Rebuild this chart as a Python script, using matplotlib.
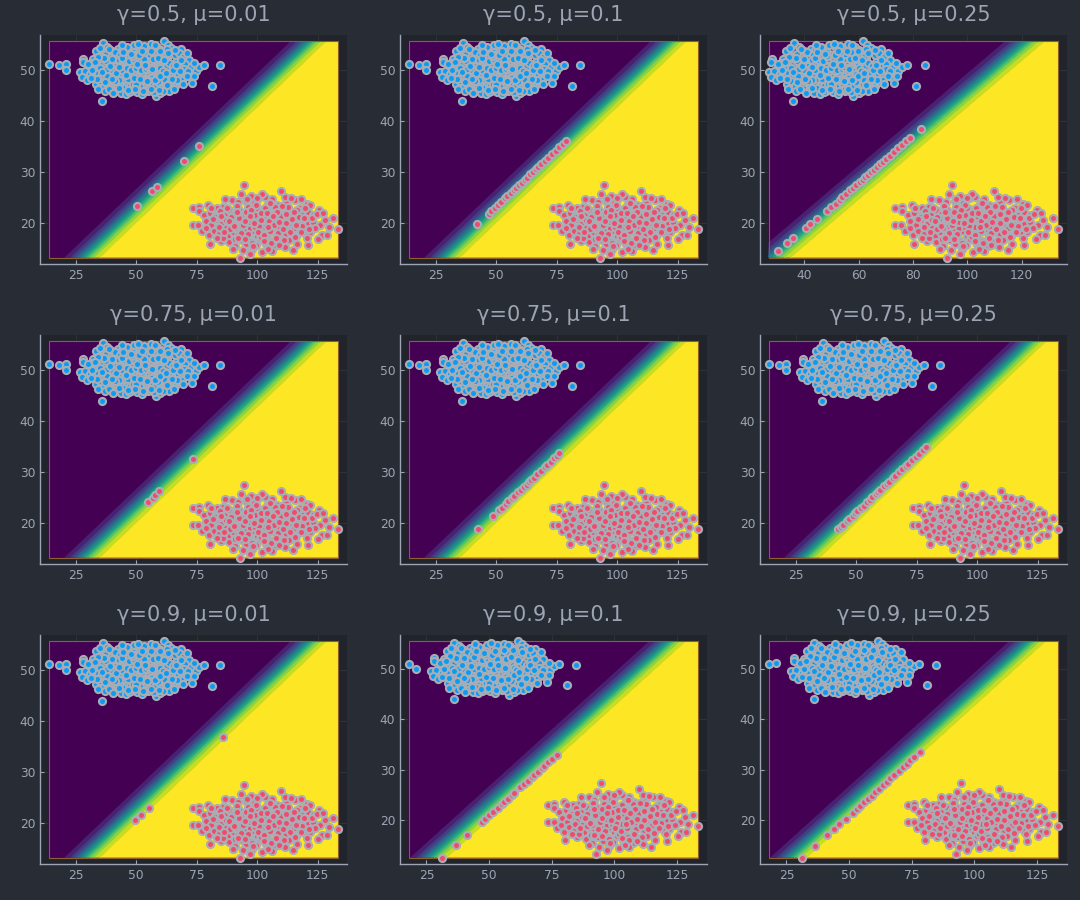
import numpy as np
import matplotlib.pyplot as plt
from matplotlib.patches import Rectangle

plt.rcParams['font.family'] = 'DejaVu Sans'

# ----------- COLORS ------------
FIG_BG = "#282c34"
AX_BG = "#21252b"
FG = "#9da5b4"
BLUE = "#0a9cf5"
RED = "#f04b6c"
EDGE = "#a8adb5"

# ----------- DATA ------------
gammas = [0.5, 0.75, 0.9]
mus = [0.01, 0.1, 0.25]

# decision boundary: passes through (27.7, 13.2), slope 0.4537
boundary_x0, boundary_y0, boundary_slope = 27.7, 13.2, 0.4537
boundary_sharpness = 0.33
n_layers = 12

blue_x = [36.1, 38.0, 42.5, 46.0, 49.1, 51.5, 53.0, 56.0, 58.5, 60.2, 61.5, 63.0, 64.5, 68.3, 44.0, 40.0,
          33.3, 35.0, 37.5, 39.5, 41.0, 43.2, 45.0, 47.0, 48.5, 50.0, 52.0, 54.0, 55.5, 57.2, 59.0, 61.0,
          62.8, 64.0, 66.0, 67.5, 69.5, 71.7, 32.0, 28.0,
          27.9, 30.5, 31.5, 33.0, 34.5, 36.0, 37.5, 38.8, 40.2, 41.5, 42.8, 44.2, 45.5, 46.8, 48.0, 49.3,
          50.6, 51.9, 53.2, 54.5, 55.8, 57.1, 58.4, 59.7, 61.0, 62.3, 63.6, 65.0, 66.5, 68.0, 70.0, 72.5,
          74.5, 76.0, 77.9,
          26.9, 29.0, 31.0, 32.5, 34.0, 35.5, 37.0, 38.3, 39.7, 41.0, 42.3, 43.6, 44.9, 46.2, 47.5, 48.8,
          50.1, 51.4, 52.7, 54.0, 55.3, 56.6, 57.9, 59.2, 60.5, 61.8, 63.1, 64.4, 65.8, 67.2, 68.8, 70.5,
          72.0, 74.0, 27.6, 29.6,
          33.5, 35.0, 36.5, 38.0, 39.5, 40.8, 42.0, 43.4, 44.8, 46.1, 47.4, 48.7, 50.0, 51.3, 52.6, 53.9,
          55.2, 56.5, 57.8, 59.1, 60.4, 61.7, 63.0, 64.5, 66.0, 67.5, 73.1, 69.0,
          34.0, 37.0, 41.6, 43.5, 45.7, 48.0, 50.5, 52.5, 55.0, 58.0, 60.0, 63.5, 36.0,
          42.0, 44.0, 46.0, 48.0, 50.0, 52.0, 54.0, 56.0, 45.0, 47.0, 49.0, 51.0, 53.0, 55.0, 50.0, 45.0,
          40.0, 58.0, 60.0, 62.0, 43.0, 38.0,
          39.2, 41.7, 43.9, 46.6, 48.4, 49.8, 51.2, 53.6, 54.8, 56.9, 58.1, 59.6, 60.9, 62.4, 63.8, 65.3,
          66.7, 68.4, 69.9, 71.4, 36.8, 35.2, 33.8, 31.9, 30.2, 38.6, 40.5, 47.1, 53.8, 57.3, 61.2, 65.5,
          44.3, 50.8, 57.7, 62.6, 66.2, 34.9, 70.8, 73.8,
          37.8, 39.9, 41.3, 42.7, 44.6, 45.9, 47.8, 48.9, 50.4, 51.7, 52.3, 53.4, 54.6, 55.9, 56.4, 57.6,
          58.8, 59.9, 61.4, 62.1, 63.3, 64.7, 66.3, 67.9, 69.3, 70.9, 35.8, 34.3, 32.8, 31.2, 38.9, 46.7,
          49.6, 52.9, 56.1, 59.4, 62.8, 43.0, 40.1, 37.2]
blue_y = [55.3, 54.6, 54.2, 54.5, 54.9, 54.3, 54.8, 55.1, 54.6, 54.0, 55.6, 55.0, 54.4, 54.1, 54.0, 53.8,
          53.7, 52.8, 53.2, 52.6, 53.5, 52.9, 53.3, 52.7, 53.6, 53.0, 52.5, 53.4, 52.8, 53.5, 52.6, 53.2,
          52.4, 53.6, 52.9, 53.3, 52.5, 52.0, 52.1, 52.2,
          51.6, 50.6, 51.4, 50.8, 51.6, 51.0, 51.8, 50.5, 51.3, 50.7, 51.9, 51.1, 50.4, 51.6, 50.9, 51.7,
          50.6, 51.4, 50.8, 51.8, 51.0, 50.5, 51.5, 50.9, 51.7, 50.6, 51.3, 50.8, 51.6, 50.7, 51.2, 50.5,
          49.9, 50.6, 51.0,
          49.6, 49.8, 49.2, 48.7, 49.5, 48.9, 49.7, 48.5, 49.3, 48.8, 49.9, 49.0, 48.4, 49.6, 48.9, 49.5,
          48.6, 49.8, 49.1, 48.5, 49.4, 48.8, 49.9, 49.2, 48.6, 49.6, 48.9, 49.4, 48.5, 49.3, 48.7, 49.5,
          48.6, 48.9, 48.6, 48.1,
          47.2, 47.8, 46.9, 47.5, 46.6, 47.7, 46.9, 47.4, 46.5, 47.6, 46.8, 47.3, 46.6, 47.8, 46.9, 47.5,
          46.4, 47.2, 46.7, 47.6, 46.5, 47.3, 46.8, 47.5, 46.9, 47.6, 47.5, 48.0,
          46.2, 45.8, 45.8, 45.5, 45.2, 45.9, 45.6, 45.3, 45.9, 44.9, 45.5, 45.8, 44.0,
          50.2, 50.0, 50.3, 50.1, 50.4, 50.0, 50.2, 49.9, 52.0, 51.8, 52.2, 51.9, 52.1, 48.0, 48.0, 48.2,
          50.1, 52.0, 50.3, 48.0, 48.1, 50.2,
          50.8, 49.4, 52.4, 48.2, 52.8, 47.2, 52.9, 48.0, 50.6, 52.1, 48.3, 53.8, 49.8, 52.7, 47.6, 50.1,
          48.1, 52.0, 50.2, 49.8, 52.3, 50.3, 48.2, 50.0, 51.2, 46.3, 45.4, 45.6, 46.0, 45.7, 45.9, 46.2,
          55.0, 55.2, 54.9, 54.2, 54.0, 54.3, 53.4, 51.3,
          48.9, 52.2, 47.9, 50.6, 53.6, 49.1, 53.2, 48.4, 51.1, 48.2, 53.7, 50.9, 47.9, 53.8, 50.2, 48.1,
          52.4, 48.9, 51.9, 49.4, 53.4, 48.3, 50.9, 49.9, 47.2, 48.8, 49.7, 52.6, 51.6, 48.5, 54.2, 46.1,
          46.3, 45.9, 46.3, 46.1, 47.1, 46.5, 48.3, 47.6]

red_x = [94.5, 109.8, 89.7, 97.3, 100.5, 103.0, 106.0, 115.4, 120.5, 92.0, 95.5, 98.5, 104.5, 108.0, 112.0,
         117.5, 122.0, 86.0, 83.5, 79.7, 73.5, 76.0,
         76.0, 78.0, 80.5, 82.5, 84.5, 86.5, 88.5, 90.5, 92.5, 94.5, 96.5, 98.5, 100.5, 102.5, 104.5, 106.5,
         108.5, 110.5, 112.5, 114.5, 116.5, 118.5, 121.0, 123.0, 125.7, 131.5,
         73.5, 75.7, 79.0, 81.0, 83.0, 85.0, 87.0, 89.0, 91.0, 93.0, 95.0, 97.0, 99.0, 101.0, 103.0, 105.0,
         107.0, 109.0, 111.0, 113.0, 115.0, 117.0, 119.0, 121.0, 123.0, 126.0, 128.0,
         77.0, 80.0, 82.0, 84.0, 86.0, 88.0, 90.0, 92.0, 94.0, 96.0, 98.0, 100.0, 102.0, 104.0, 106.0, 108.0,
         110.0, 112.0, 114.0, 116.0, 118.0, 120.0, 122.0, 124.0, 133.5, 126.6, 128.7,
         80.4, 85.0, 88.5, 91.0, 93.5, 95.5, 97.5, 99.5, 101.0, 103.5, 105.5, 107.5, 109.5, 111.5, 113.0,
         116.4, 120.9, 102.0, 98.0, 94.0, 106.0, 92.7,
         90.0, 92.0, 94.0, 96.0, 98.0, 100.0, 102.0, 104.0, 106.0, 108.0, 110.0, 95.0, 97.0, 99.0, 101.0,
         103.0, 105.0, 107.0, 93.0, 91.0, 89.0, 111.0, 113.0, 115.0, 87.0, 100.0, 96.0, 104.0, 108.0, 112.0,
         82.7, 84.1, 85.8, 87.4, 88.9, 90.7, 91.6, 93.8, 95.2, 96.8, 97.9, 99.3, 100.8, 101.7, 103.2, 104.9,
         105.8, 107.3, 108.7, 109.8, 111.2, 112.8, 114.3, 115.7, 117.2, 118.6, 119.8, 121.5, 122.7, 124.5,
         125.2, 127.3, 129.5, 78.8, 80.9, 86.8, 93.1, 101.9, 111.3, 118.2, 97.2, 104.3, 89.8, 114.8, 99.1,
         101.6, 94.3, 106.8, 92.4, 108.2,
         88.2, 90.3, 91.8, 93.4, 94.9, 96.3, 97.6, 98.8, 100.3, 101.4, 102.8, 103.9, 105.1, 106.4, 107.9,
         109.1, 110.6, 111.9, 113.6, 115.1, 116.1, 117.9, 119.4, 120.6, 84.9, 86.3, 83.2, 81.7, 95.7, 99.8,
         105.3, 110.2, 113.8, 98.4, 102.9, 108.9, 95.1, 91.9, 104.6, 97.1]
red_y = [27.4, 26.2, 24.5, 25.2, 24.8, 25.0, 24.6, 24.5, 23.8, 24.0, 24.3, 23.9, 23.8, 23.5, 23.9,
         23.0, 23.5, 23.2, 22.9, 23.6, 23.0, 23.2,
         22.3, 21.5, 22.0, 21.4, 22.4, 21.6, 22.5, 21.8, 22.6, 21.7, 22.5, 21.9, 22.7, 21.6, 22.4, 21.8,
         22.6, 21.7, 22.3, 21.9, 22.5, 21.6, 22.2, 21.5, 22.5, 21.0,
         19.5, 19.5, 20.3, 19.6, 20.5, 19.8, 20.6, 19.7, 20.4, 19.9, 20.7, 19.6, 20.5, 19.8, 20.6, 19.7,
         20.3, 19.9, 20.7, 19.6, 20.4, 19.8, 20.6, 19.7, 20.2, 19.5, 20.5,
         18.4, 17.6, 18.5, 17.8, 18.6, 17.5, 18.3, 17.7, 18.7, 17.6, 18.4, 17.5, 18.6, 17.8, 18.5, 17.4,
         18.3, 17.9, 18.6, 17.5, 18.7, 17.8, 18.2, 18.9, 18.8, 17.6, 17.6,
         15.9, 16.5, 16.2, 15.4, 16.6, 15.8, 16.4, 15.6, 16.8, 15.9, 16.5, 15.4, 16.3, 15.2, 16.7,
         15.9, 15.7, 14.3, 14.8, 14.6, 14.5, 13.2,
         21.0, 20.8, 21.2, 20.9, 21.3, 21.0, 20.8, 21.2, 21.0, 20.9, 21.1, 19.0, 18.9, 19.2, 18.9,
         19.1, 19.0, 18.8, 19.2, 18.9, 21.1, 19.2, 21.0, 18.9, 19.0, 23.0, 23.1, 23.0, 19.1, 20.0,
         21.1, 19.2, 17.1, 22.9, 18.8, 16.9, 23.4, 17.3, 22.1, 20.1, 16.1, 23.6, 19.3, 17.2, 22.9, 20.3,
         16.0, 23.2, 18.1, 21.4, 16.6, 23.1, 20.8, 17.3, 21.2, 19.4, 22.9, 18.8, 20.9, 21.8,
         16.8, 22.0, 19.2, 19.0, 23.0, 24.6, 25.6, 25.6, 25.0, 24.6, 13.9, 14.9, 14.9, 14.6, 21.6,
         22.0, 19.5, 19.6, 21.0, 22.1,
         20.3, 19.4, 22.2, 18.1, 20.3, 17.8, 22.6, 19.9, 18.3, 20.6, 17.7, 21.9, 18.4, 21.4, 17.1,
         20.2, 18.7, 21.8, 18.2, 22.1, 19.6, 18.3, 20.9, 17.1, 21.3, 18.3, 17.1, 20.8, 24.6, 24.9,
         23.9, 23.4, 24.8, 15.4, 16.4, 15.7, 16.8, 17.0, 19.1, 21.4]

# blue points that sit outside the main cluster, per panel (row-major order)
blue_extra_x = [
    [13.8, 17.9, 20.9, 20.9, 84.5, 81.2], [13.8, 17.9, 20.9, 20.9, 84.5, 81.2], [84.5, 81.2],
    [13.8, 17.9, 20.9, 20.9, 84.5, 81.2], [13.8, 17.9, 20.9, 20.9, 84.5, 81.2], [13.8, 17.9, 20.9, 20.9, 84.5, 81.2],
    [13.8, 17.9, 20.9, 20.9, 84.5, 81.2], [17.9, 20.9, 84.5, 81.2], [17.9, 20.9, 84.5, 81.2],
]
blue_extra_y = [
    [51.2, 51.0, 51.2, 50.0, 50.9, 46.8], [51.2, 51.0, 51.2, 50.0, 50.9, 46.8], [50.9, 46.8],
    [51.2, 51.0, 51.2, 50.0, 50.9, 46.8], [51.2, 51.0, 51.2, 50.0, 50.9, 46.8], [51.2, 51.0, 51.2, 50.0, 50.9, 46.8],
    [51.2, 51.0, 51.2, 50.0, 50.9, 46.8], [51.0, 50.0, 50.9, 46.8], [51.0, 51.2, 50.9, 46.8],
]

# red points pushed onto the boundary, per panel (row-major order)
moved_x = [
    [50.2, 56.4, 58.4, 69.8, 76.0],
    [42.0, 46.8, 48.0, 49.5, 50.8, 52.0, 53.5, 54.6, 56.0, 57.2, 58.0, 59.3, 60.5, 61.8, 62.6, 64.0, 65.2,
     66.5, 67.3, 68.5, 70.0, 71.2, 73.0, 74.5, 76.0, 77.5, 78.7],
    [30.3, 33.6, 35.8, 40.6, 42.2, 44.8, 48.2, 50.0, 51.5, 53.0, 54.0, 55.5, 57.0, 58.0, 59.2, 60.5, 61.5,
     62.5, 63.5, 64.5, 65.5, 66.8, 68.0, 69.0, 70.0, 71.5, 73.0, 74.5, 76.0, 77.5, 79.0, 82.8],
    [54.7, 56.8, 57.8, 59.5, 73.6],
    [42.4, 48.8, 51.3, 52.5, 54.0, 55.0, 56.5, 57.5, 59.0, 60.3, 61.5, 62.5, 63.5, 64.5, 65.5, 67.0, 68.5,
     70.0, 71.0, 72.5, 74.0, 75.0, 76.0],
    [42.4, 43.5, 44.5, 46.0, 47.0, 48.5, 49.5, 50.5, 52.0, 53.0, 54.5, 55.5, 56.5, 58.0, 59.0, 60.0, 61.5,
     62.5, 63.5, 65.0, 66.0, 67.5, 69.0, 70.5, 71.5, 73.0, 74.5, 76.0, 77.5, 78.7],
    [49.3, 52.0, 55.3, 85.8],
    [31.2, 36.9, 41.1, 47.0, 48.5, 50.0, 51.5, 53.5, 55.0, 56.0, 57.5, 59.0, 60.0, 62.5, 64.0, 65.5, 67.0,
     68.0, 69.5, 71.0, 72.0, 73.5, 75.0, 76.9],
    [31.2, 36.5, 41.2, 44.1, 46.1, 48.7, 51.4, 53.0, 54.5, 56.0, 57.5, 59.0, 60.5, 62.0, 63.5, 65.0, 66.5,
     68.0, 70.0, 71.5, 73.0, 74.5, 76.0, 78.3],
]
moved_y = [
    [23.3, 26.2, 27.1, 32.2, 35.0],
    [19.7, 21.8, 22.3, 23.0, 23.6, 24.1, 24.8, 25.3, 25.9, 26.5, 26.8, 27.4, 27.9, 28.5, 28.9, 29.5, 30.0,
     30.6, 31.0, 31.5, 32.2, 32.7, 33.5, 34.2, 34.9, 35.5, 36.1],
    [14.5, 16.0, 17.0, 18.9, 19.7, 20.8, 22.3, 23.1, 23.8, 24.5, 25.0, 25.7, 26.4, 26.9, 27.4, 28.0, 28.5,
     29.0, 29.4, 29.9, 30.4, 31.0, 31.6, 32.0, 32.5, 33.2, 33.9, 34.6, 35.3, 36.0, 36.7, 38.4],
    [24.1, 24.9, 25.4, 26.2, 32.6],
    [18.7, 21.4, 22.5, 23.0, 23.7, 24.2, 24.8, 25.3, 26.0, 26.5, 27.1, 27.5, 28.0, 28.4, 28.9, 29.6, 30.2,
     30.9, 31.4, 32.0, 32.7, 33.2, 33.7],
    [18.7, 19.2, 19.6, 20.3, 20.7, 21.4, 21.9, 22.3, 23.0, 23.4, 24.1, 24.5, 25.0, 25.6, 26.1, 26.5, 27.2,
     27.6, 28.1, 28.8, 29.2, 29.9, 30.5, 31.2, 31.6, 32.3, 33.0, 33.6, 34.3, 34.8],
    [20.5, 21.6, 23.0, 36.8],
    [12.4, 14.9, 16.9, 19.5, 20.2, 20.9, 21.5, 22.4, 23.1, 23.6, 24.2, 24.9, 25.4, 26.5, 27.2, 27.8, 28.5,
     29.0, 29.6, 30.3, 30.8, 31.5, 32.1, 33.0],
    [12.4, 14.8, 16.9, 18.2, 19.2, 20.2, 21.4, 22.1, 22.8, 23.5, 24.2, 24.8, 25.5, 26.2, 26.9, 27.6, 28.3,
     28.9, 29.8, 30.5, 31.2, 31.9, 32.6, 33.6],
]

xticks_per_panel = [
    [25, 50, 75, 100, 125], [25, 50, 75, 100, 125], [40, 60, 80, 100, 120],
    [25, 50, 75, 100, 125], [25, 50, 75, 100, 125], [25, 50, 75, 100, 125],
    [25, 50, 75, 100, 125], [25, 50, 75, 100, 125], [25, 50, 75, 100, 125],
]
yticks = [20, 30, 40, 50]

# ----------- LAYOUT ------------
col_left = [40 / 1080, 400 / 1080, 760 / 1080]
row_bottom = [1 - 264 / 900, 1 - 564 / 900, 1 - 864 / 900]
ax_w, ax_h = 307 / 1080, 229 / 900

layer_colors = plt.cm.viridis(np.linspace(0, 1, n_layers))
levels = np.linspace(0, 1, n_layers + 1)

fig = plt.figure(figsize=(10.8, 9), dpi=100, facecolor=FIG_BG)

for i, g in enumerate(gammas):
    for j, m in enumerate(mus):
        k = i * 3 + j
        ax = fig.add_axes([col_left[j], row_bottom[i], ax_w, ax_h])
        ax.set_facecolor(AX_BG)

        bx = np.array(blue_x + blue_extra_x[k])
        by = np.array(blue_y + blue_extra_y[k])
        rx = np.array(red_x + moved_x[k])
        ry = np.array(red_y + moved_y[k])

        all_x = np.concatenate([bx, rx])
        all_y = np.concatenate([by, ry])
        x0, x1 = all_x.min(), all_x.max()
        y0, y1 = all_y.min(), all_y.max()

        # decision surface over the data box
        gx = np.linspace(x0, x1, 600)
        gy = np.linspace(y0, y1, 400)
        X, Y = np.meshgrid(gx, gy)
        x_line = boundary_x0 + (Y - boundary_y0) / boundary_slope
        P = 1 / (1 + np.exp(-boundary_sharpness * (X - x_line)))
        cs = ax.contourf(X, Y, P, levels=levels, colors=layer_colors, zorder=1,
                         antialiased=True)
        cs.set_edgecolor("face")
        cs.set_linewidth(0.3)
        ax.add_patch(Rectangle((x0, y0), x1 - x0, y1 - y0, fill=False,
                               edgecolor="#8c5e36", lw=0.8, zorder=1.5))

        ax.scatter(bx, by, s=26, c=BLUE, edgecolors=EDGE, linewidths=1.5, zorder=3)
        ax.scatter(rx, ry, s=26, c=RED, edgecolors=EDGE, linewidths=1.5, zorder=3)

        pad_x = 0.03 * (x1 - x0)
        pad_y = 0.03 * (y1 - y0)
        ax.set_xlim(x0 - pad_x, x1 + pad_x)
        ax.set_ylim(y0 - pad_y, y1 + pad_y)
        ax.set_xticks(xticks_per_panel[k])
        ax.set_yticks(yticks)

        ax.set_axisbelow(True)
        ax.grid(True, color="#2f343d", lw=0.6)
        for s in ["top", "right"]:
            ax.spines[s].set_visible(False)
        for s in ["left", "bottom"]:
            ax.spines[s].set_color(FG)
            ax.spines[s].set_linewidth(1.0)
        ax.tick_params(colors=FG, labelsize=8.8, direction="in", length=3, width=0.8)

        ax.set_title(f"γ={g}, μ={m}", color=FG, fontsize=15, pad=10)

fig.savefig("out.png", dpi=100, facecolor=FIG_BG)
